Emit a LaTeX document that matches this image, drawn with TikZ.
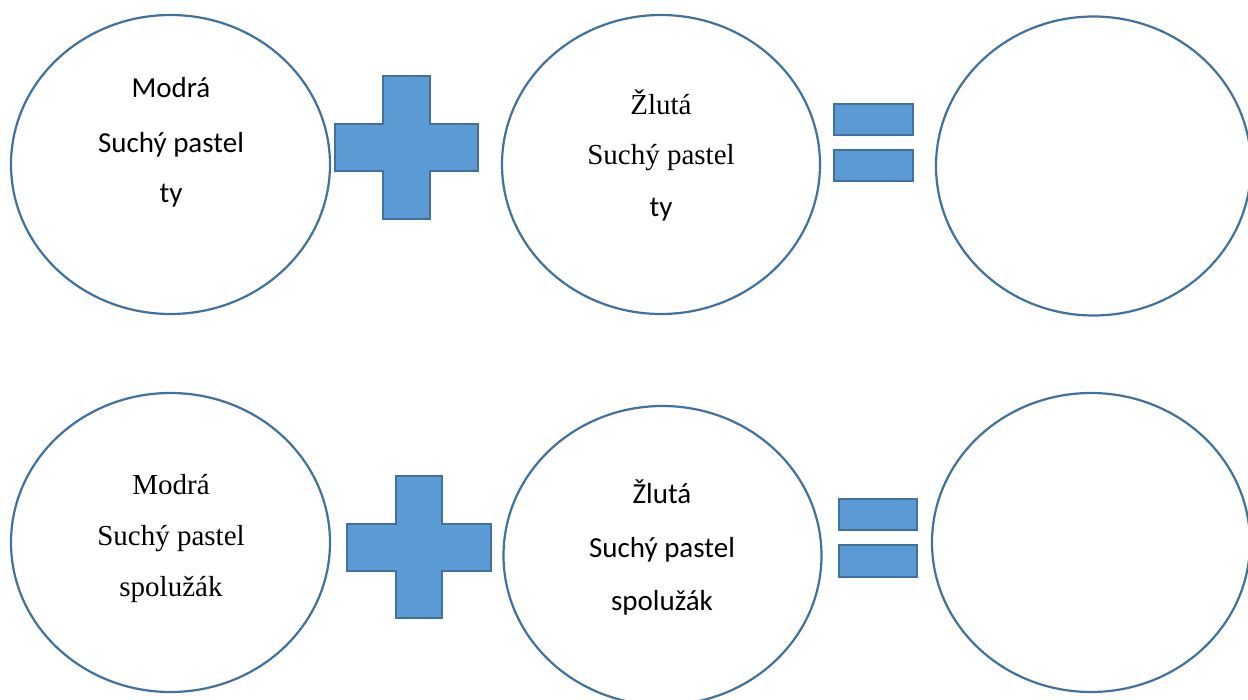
\documentclass[tikz,border=0pt]{standalone}
\usepackage{fontspec}
\newfontfamily\calfont{Carlito}
\newfontfamily\timfont{Liberation Serif}
\usetikzlibrary{shapes.geometric}
\definecolor{edgeblue}{HTML}{41719C}
\definecolor{fillblue}{HTML}{5B9BD5}
\tikzset{
  bubble/.style={draw=edgeblue, line width=2.2pt, fill=white, ellipse, inner sep=0pt, outer sep=0pt},
  sign/.style={draw=edgeblue, line width=2pt, fill=fillblue},
  lbl/.style={anchor=base, inner sep=0pt, font=\fontsize{29}{29}\selectfont},
}
\begin{document}
\begin{tikzpicture}[x=1pt,y=-1pt]
\useasboundingbox (0,0) rectangle (1248,700);
\fill[white] (0,0) rectangle (1248,700);
% top row
\node[bubble, minimum width=319, minimum height=299] (c1) at (170.5,164.5) {};
\node[bubble, minimum width=318, minimum height=299] (c2) at (661,164.5) {};
\node[bubble, minimum width=315, minimum height=299] (c3) at (1093.5,166) {};
\draw[sign] (383,76) -- (430,76) -- (430,124) -- (478,124) -- (478,171) -- (430,171) -- (430,219) -- (383,219) -- (383,171) -- (335,171) -- (335,124) -- (383,124) -- cycle;
\draw[sign] (834,104) rectangle (913,135);
\draw[sign] (834,150) rectangle (913,181);
\node[lbl, font=\calfont\fontsize{29}{29}\selectfont] (t1a) at (171,98) {Modrá};
\node[lbl, font=\calfont\fontsize{29}{29}\selectfont] (t1b) at (171,153) {Suchý pastel};
\node[lbl, font=\calfont\fontsize{29}{29}\selectfont] (t1c) at (171,203) {ty};
\node[lbl, font=\timfont\fontsize{29}{29}\selectfont] (t2a) at (661,115) {Žlutá};
\node[lbl, font=\timfont\fontsize{29}{29}\selectfont] (t2b) at (661,165) {Suchý pastel};
\node[lbl, font=\calfont\fontsize{29}{29}\selectfont] (t2c) at (661,217) {ty};
% bottom row
\node[bubble, minimum width=319, minimum height=299] (c4) at (170.5,542.5) {};
\node[bubble, minimum width=318, minimum height=299] (c5) at (662.5,555.5) {};
\node[bubble, minimum width=318, minimum height=299] (c6) at (1091,542.5) {};
\draw[sign] (396,476) -- (442,476) -- (442,524) -- (491,524) -- (491,571) -- (442,571) -- (442,618) -- (396,618) -- (396,571) -- (347,571) -- (347,524) -- (396,524) -- cycle;
\draw[sign] (839,499) rectangle (917,530);
\draw[sign] (839,545) rectangle (917,577);
\node[lbl, font=\timfont\fontsize{29}{29}\selectfont] (t4a) at (171,494) {Modrá};
\node[lbl, font=\timfont\fontsize{29}{29}\selectfont] (t4b) at (171,545) {Suchý pastel};
\node[lbl, font=\timfont\fontsize{29}{29}\selectfont] (t4c) at (171,596) {spolužák};
\node[lbl, font=\calfont\fontsize{29}{29}\selectfont] (t5a) at (662,503) {Žlutá};
\node[lbl, font=\calfont\fontsize{29}{29}\selectfont] (t5b) at (662,557) {Suchý pastel};
\node[lbl, font=\calfont\fontsize{29}{29}\selectfont] (t5c) at (662,610) {spolužák};
\end{tikzpicture}
\end{document}
